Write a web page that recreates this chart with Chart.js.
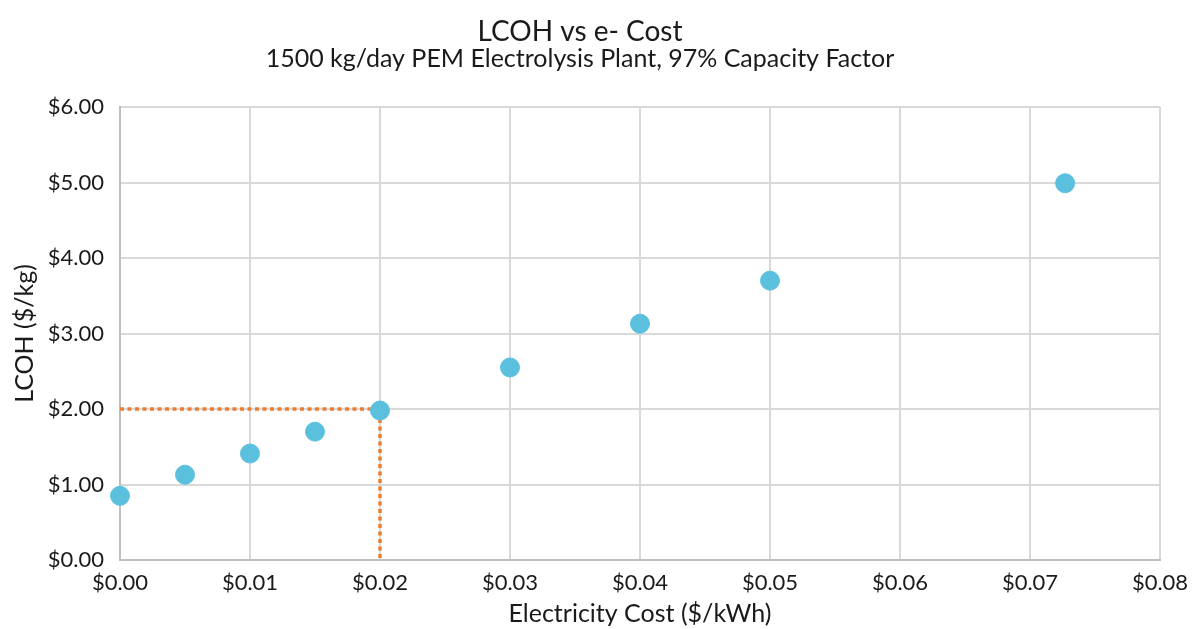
<!DOCTYPE html>
<html>
<head>
<meta charset="utf-8">
<script src="https://cdn.jsdelivr.net/npm/chart.js@4.4.0/dist/chart.umd.min.js"></script>
<style>
  html, body { margin: 0; padding: 0; background: #fff; }
  #chart { display: block; }
</style>
</head>
<body>
<canvas id="chart" width="1192" height="629"></canvas>
<script>
// Electricity cost ($/kWh) and resulting LCOH ($/kg)
const elecCost = [0, 0.005, 0.01, 0.015, 0.02, 0.03, 0.04, 0.05, 0.0727];
const lcoh = [0.85, 1.13, 1.41, 1.70, 1.98, 2.55, 3.13, 3.70, 4.99];

// Orange guide line marking $2.00 at $0.02
const guideX = [0, 0.02, 0.02];
const guideY = [2, 2, 0];

const FONT = 'Lato';
const TEXT = '#1a1a1a';

// Build point lists from the arrays
const points = elecCost.map((x, i) => ({ x: x, y: lcoh[i] }));
const guide = guideX.map((x, i) => ({ x: x, y: guideY[i] }));

const ctx = document.getElementById('chart').getContext('2d');
new Chart(ctx, {
    type: 'scatter',
    data: {
        datasets: [
            {
                label: 'Guide',
                type: 'line',
                data: guide,
                borderColor: '#ED7D31',
                borderWidth: 3.5,
                borderDash: [4, 3.5],
                pointRadius: 0,
                fill: false,
                tension: 0,
                clip: false,
                order: 2
            },
            {
                label: 'LCOH',
                data: points,
                backgroundColor: '#5BC0DE',
                borderColor: '#5BC0DE',
                pointRadius: 9.5,
                pointHoverRadius: 9.5,
                clip: false,
                order: 1
            }
        ]
    },
    options: {
        responsive: false,
        animation: false,
        layout: { padding: { left: 0, right: 32, top: 0, bottom: 0 } },
        plugins: {
            legend: { display: false },
            tooltip: { enabled: false },
            title: {
                display: true,
                text: 'LCOH vs e- Cost',
                color: TEXT,
                font: { family: FONT, size: 28, weight: 'normal', lineHeight: 1 },
                padding: { top: 18, bottom: 0 }
            },
            subtitle: {
                display: true,
                text: '1500 kg/day PEM Electrolysis Plant, 97% Capacity Factor',
                color: TEXT,
                font: { family: FONT, size: 25, weight: 'normal', lineHeight: 1 },
                padding: { top: 0, bottom: 36 }
            }
        },
        scales: {
            x: {
                type: 'linear',
                min: 0,
                max: 0.08,
                ticks: {
                    stepSize: 0.01,
                    color: TEXT,
                    padding: 10,
                    font: { family: FONT, size: 22 },
                    callback: v => '$' + v.toFixed(2)
                },
                grid: { color: '#D9D9D9', lineWidth: 2, drawTicks: false },
                border: { color: '#BFBFBF', width: 2 },
                title: {
                    display: true,
                    text: 'Electricity Cost ($/kWh)',
                    color: TEXT,
                    font: { family: FONT, size: 25 },
                    padding: { top: 0, bottom: 0 }
                },
                afterFit: scale => {
                    scale.height = 69;
                    scale.paddingLeft = 0;
                    scale.paddingRight = 0;
                }
            },
            y: {
                min: 0,
                max: 6,
                ticks: {
                    stepSize: 1,
                    color: TEXT,
                    padding: 16,
                    font: { family: FONT, size: 22 },
                    callback: v => '$' + v.toFixed(2)
                },
                grid: { color: '#D9D9D9', lineWidth: 2, drawTicks: false },
                border: { color: '#BFBFBF', width: 2 },
                title: {
                    display: true,
                    text: 'LCOH ($/kg)',
                    color: TEXT,
                    font: { family: FONT, size: 25 },
                    padding: { top: 10, bottom: 0 }
                },
                afterFit: scale => { scale.width = 120; }
            }
        }
    }
});
</script>
</body>
</html>
